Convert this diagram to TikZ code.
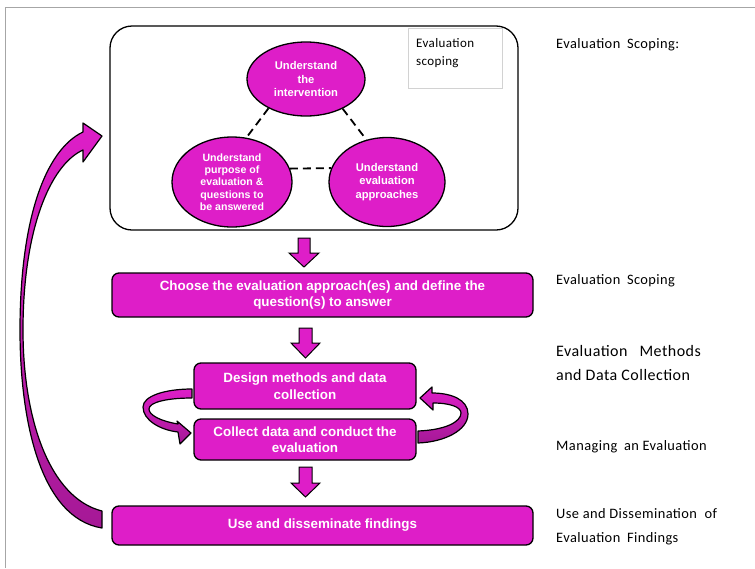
\documentclass[tikz,border=0pt]{standalone}
\usepackage{fontspec}
\setmainfont{Liberation Sans}
\newfontfamily\calib[LetterSpace=3]{Carlito}
\usetikzlibrary{shapes.geometric}
\definecolor{mag}{RGB}{222,30,200}
\definecolor{magdark}{RGB}{165,25,150}
\begin{document}
\begin{tikzpicture}[x=1pt,y=-1pt,
  box/.style={draw=black, line width=1.3pt, fill=mag, rounded corners=7pt, text=white,
    font=\bfseries\fontsize{13.4}{16.5}\selectfont, align=center, inner sep=0pt},
  ell/.style={ellipse, draw=black, line width=1.3pt, fill=mag, text=white, align=center, inner sep=0pt},
  lab/.style={anchor=base west, font=\calib\fontsize{14.4}{18}\selectfont, inner sep=0pt},
  blk/.style={draw=black, line width=1pt, fill=mag, line join=miter},
  dashline/.style={line width=1.8pt, dash pattern=on 8pt off 5pt},
  ribbon/.style={draw=black, line width=1.2pt, line join=round}
]
\useasboundingbox (0,0) rectangle (755,568);
% outer frame (top and left)
\draw[gray!70, line width=0.9pt] (5,568) -- (5,7) -- (755,7);

% scoping box
\node[draw=black, line width=1.3pt, rounded corners=22pt, minimum width=408pt, minimum height=204pt, inner sep=0pt] (scope) at (314,128) {};
\node[draw=gray!35, line width=0.6pt, minimum width=94pt, minimum height=60pt, inner sep=0pt] (small) at (455,58) {};
\node[anchor=base west, inner sep=0pt, font=\calib\fontsize{13}{16}\selectfont] (sm1) at (416,47) {Evaluation};
\node[anchor=base west, inner sep=0pt, font=\calib\fontsize{13}{16}\selectfont] (sm2) at (416,65) {scoping};

% ellipses
\node[ell, minimum width=118pt, minimum height=74pt, font=\bfseries\fontsize{11.2}{13.3}\selectfont] (e1) at (306,79) {Understand\\the\\intervention};
\node[ell, minimum width=120pt, minimum height=90pt, font=\bfseries\fontsize{10.6}{12.3}\selectfont] (e2) at (232,182) {Understand\\purpose of\\evaluation \&\\questions to\\be answered};
\node[ell, minimum width=116pt, minimum height=89pt, font=\bfseries\fontsize{11.2}{13.3}\selectfont] (e3) at (387,182) {Understand\\evaluation\\approaches};
\draw[dashline] (e1.218) -- (e2.72);
\draw[dashline] (e1.321) -- (e3.116);
\draw[dashline] (e2.13) -- (e3.166);

% process boxes
\node[box, minimum width=421pt, minimum height=44pt] (choose) at (322.5,295) {Choose the evaluation approach(es) and define the\\question(s) to answer};
\node[box, minimum width=222pt, minimum height=46pt] (design) at (305,386) {Design methods and data\\collection};
\node[box, minimum width=222pt, minimum height=41pt] (collect) at (305,439.5) {Collect data and conduct the\\evaluation};
\node[box, minimum width=421pt, minimum height=39pt] (use) at (322.5,525.5) {Use and disseminate findings};

% block arrows down
\draw[blk] (298,238) -- (310,238) -- (310,253) -- (319,253) -- (304,267) -- (289,253) -- (298,253) -- cycle;
\draw[blk] (299,328) -- (312,328) -- (312,343) -- (320,343) -- (305.5,358) -- (291,343) -- (299,343) -- cycle;
\draw[blk] (299,467) -- (312,467) -- (312,483) -- (320,483) -- (305.5,497) -- (291,483) -- (299,483) -- cycle;

% left small ribbon arrow
\draw[ribbon, top color=mag, bottom color=magdark]
  (192,389) .. controls (165,389) and (143,396) .. (143,407)
  .. controls (143,420) and (160,430) .. (178,432)
  -- (180,444) -- (191,433) -- (177,421) -- (178,424)
  .. controls (160,421) and (149,415) .. (149,409)
  .. controls (149,402) and (168,398) .. (192,398) -- cycle;
% right small ribbon arrow
\draw[ribbon, top color=mag, bottom color=magdark]
  (418,443) .. controls (445,442) and (468,430) .. (468,414)
  .. controls (468,400) and (452,393) .. (432,393)
  -- (432,387) -- (420,398) -- (433,410) -- (433,403)
  .. controls (450,403) and (461,407) .. (461,413)
  .. controls (461,422) and (445,430) .. (418,431) -- cycle;

% big return arrow
\draw[ribbon, top color=mag, bottom color=magdark]
  (102,511) -- (102,528)
  .. controls (40,518) and (20,420) .. (20,330)
  .. controls (20,220) and (45,150) .. (83,132)
  -- (83,123) -- (102,136) -- (83,162) -- (83,150)
  .. controls (50,165) and (23,230) .. (23,330)
  .. controls (23,420) and (50,498) .. (102,511) -- cycle;

% right labels
\node[lab] (l1) at (556,48) {Evaluation\hspace{3pt} Scoping:};
\node[lab] (l2) at (556,284) {Evaluation\hspace{3pt} Scoping};
\node[lab, font=\calib\fontsize{16}{20}\selectfont] (l3a) at (556,356) {Evaluation\hspace{8pt} Methods};
\node[lab, font=\calib\fontsize{16}{20}\selectfont] (l3b) at (556,380) {and Data Collection};
\node[lab] (l4) at (556,450) {Managing\hspace{3pt} an Evaluation};
\node[lab] (l5a) at (556,518) {Use and Dissemination\hspace{4pt} of};
\node[lab] (l5b) at (556,542) {Evaluation\hspace{3pt} Findings};
\end{tikzpicture}
\end{document}
